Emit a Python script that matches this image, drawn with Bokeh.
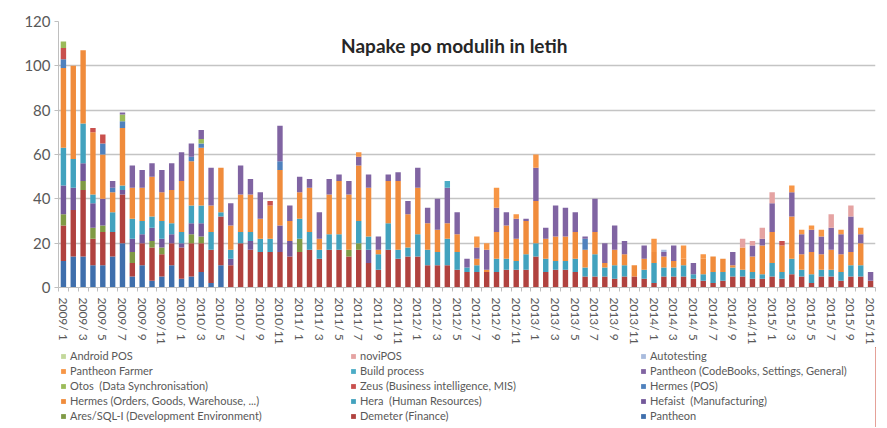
from bokeh.plotting import figure
from bokeh.layouts import column
from bokeh.models import ColumnDataSource, Range1d, FixedTicker, Legend, LegendItem, Label
from bokeh.embed import file_html
from bokeh.resources import INLINE

years = [2009, 2010, 2011, 2012, 2013, 2014, 2015]
months = [f"{y}/{m:2d}" for y in years for m in range(1, 13)][:83]

# stacked from bottom to top
pantheon = [12, 14, 14, 10, 10, 14, 20, 5, 10, 3, 5, 10,
            4, 5, 7, 2, 10, 0, 0, 0, 0, 0, 0, 0,
            0, 0, 0, 0, 0, 0, 0, 0, 0, 0, 0, 0,
            0, 0, 0, 0, 0, 0, 0, 0, 0, 0, 0, 0,
            0, 0, 0, 0, 0, 0, 0, 0, 0, 0, 0, 0,
            0, 0, 0, 0, 0, 0, 0, 0, 0, 0, 0, 0,
            0, 0, 0, 0, 0, 0, 0, 0, 0, 0, 0]
demeter = [16, 21, 30, 12, 15, 11, 22, 6, 10, 15, 10, 10,
           14, 15, 13, 15, 22, 10, 20, 17, 16, 16, 16, 14,
           16, 17, 13, 17, 17, 14, 17, 11, 8, 17, 13, 14,
           14, 10, 10, 10, 8, 7, 7, 7, 7, 8, 8, 8,
           14, 7, 8, 8, 7, 5, 5, 5, 4, 5, 5, 4,
           2, 5, 5, 5, 4, 3, 2, 3, 5, 5, 4, 4,
           5, 4, 6, 5, 2, 5, 5, 3, 5, 5, 3]
ares = [5, 0, 4, 5, 3, 0, 0, 5, 0, 3, 3, 0,
        0, 4, 3, 0, 0, 0, 0, 0, 0, 0, 0, 0,
        6, 0, 0, 0, 0, 3, 3, 0, 0, 0, 0, 0,
        0, 0, 0, 0, 0, 0, 0, 0, 0, 0, 0, 0,
        0, 0, 0, 0, 0, 0, 0, 0, 0, 0, 0, 0,
        0, 0, 0, 0, 0, 0, 0, 0, 0, 0, 0, 0,
        0, 0, 0, 0, 0, 0, 0, 0, 0, 0, 0]
hefaist = [13, 10, 8, 11, 12, 0, 2, 6, 4, 6, 4, 4,
           2, 5, 6, 0, 0, 3, 0, 4, 0, 0, 12, 7,
           0, 0, 0, 0, 0, 0, 0, 6, 0, 0, 0, 0,
           0, 0, 0, 0, 0, 0, 0, 0, 0, 0, 0, 0,
           0, 0, 0, 0, 0, 0, 0, 0, 0, 0, 0, 0,
           0, 0, 0, 0, 0, 0, 0, 0, 0, 0, 0, 0,
           0, 0, 0, 0, 0, 0, 0, 0, 0, 0, 0]
hera = [17, 13, 18, 4, 0, 9, 2, 9, 6, 5, 8, 5,
        5, 8, 8, 8, 2, 4, 5, 4, 6, 6, 0, 0,
        9, 8, 4, 7, 7, 0, 10, 6, 7, 12, 4, 4,
        10, 7, 6, 12, 8, 2, 3, 0, 6, 5, 4, 7,
        6, 6, 4, 4, 6, 4, 10, 4, 6, 5, 0, 4,
        9, 4, 4, 5, 2, 3, 5, 4, 4, 3, 3, 2,
        6, 3, 7, 3, 4, 3, 3, 4, 5, 5, 0]
hermes_orders = [36, 42, 33, 28, 20, 9, 26, 14, 15, 18, 13, 15,
                 23, 20, 26, 12, 20, 11, 17, 17, 9, 15, 25, 9,
                 12, 20, 5, 18, 24, 25, 25, 22, 2, 19, 31, 15,
                 21, 12, 10, 7, 8, 0, 3, 1, 12, 15, 10, 15,
                 19, 9, 11, 11, 12, 8, 10, 2, 7, 5, 5, 5,
                 5, 5, 3, 3, 0, 7, 7, 6, 1, 10, 7, 13,
                 14, 12, 19, 7, 10, 7, 9, 8, 6, 10, 0]
hermes_pos = [4, 0, 0, 0, 5, 2, 3, 0, 0, 0, 0, 0,
              0, 2, 2, 0, 0, 0, 0, 0, 0, 0, 4, 0,
              0, 0, 0, 0, 0, 0, 0, 0, 0, 0, 0, 0,
              0, 0, 0, 0, 0, 0, 0, 0, 0, 0, 0, 0,
              0, 0, 0, 0, 0, 5, 0, 0, 0, 0, 0, 0,
              0, 0, 0, 0, 0, 0, 0, 0, 0, 0, 0, 0,
              0, 0, 0, 0, 0, 0, 0, 0, 0, 0, 0]
zeus = [5, 0, 0, 2, 4, 0, 0, 0, 0, 0, 0, 0,
        0, 0, 0, 0, 0, 0, 0, 0, 0, 2, 0, 0,
        0, 0, 0, 0, 0, 0, 0, 0, 0, 0, 0, 0,
        0, 0, 0, 0, 0, 0, 0, 0, 0, 0, 0, 0,
        0, 0, 0, 0, 0, 0, 0, 0, 0, 0, 0, 0,
        0, 0, 0, 0, 0, 0, 0, 0, 0, 0, 0, 0,
        0, 2, 0, 0, 0, 0, 0, 0, 0, 0, 0]
otos = [3, 0, 0, 0, 0, 0, 3, 0, 0, 0, 0, 0,
        0, 0, 2, 0, 0, 0, 0, 0, 0, 0, 0, 0,
        0, 0, 0, 0, 0, 0, 0, 0, 0, 0, 0, 0,
        0, 0, 0, 0, 0, 0, 0, 0, 0, 0, 0, 0,
        0, 0, 0, 0, 0, 0, 0, 0, 0, 0, 0, 0,
        0, 0, 0, 0, 0, 0, 0, 0, 0, 0, 0, 0,
        0, 0, 0, 0, 0, 0, 0, 0, 0, 0, 0]
pantheon_cb = [0, 0, 0, 0, 0, 3, 1, 10, 8, 6, 10, 12,
               13, 6, 4, 17, 0, 10, 13, 7, 12, 0, 16, 7,
               7, 4, 12, 7, 3, 6, 4, 6, 6, 3, 4, 6,
               9, 7, 14, 16, 10, 4, 5, 9, 11, 6, 9, 1,
               15, 5, 14, 13, 9, 1, 15, 9, 11, 6, 0, 6,
               0, 2, 7, 0, 5, 0, 0, 0, 6, 0, 5, 3,
               13, 0, 11, 9, 10, 8, 10, 9, 16, 4, 4]
build = [0, 0, 0, 0, 0, 0, 0, 0, 0, 0, 0, 0,
         0, 0, 0, 0, 0, 0, 0, 0, 0, 0, 0, 0,
         0, 0, 0, 0, 0, 0, 0, 0, 0, 0, 0, 0,
         0, 0, 0, 3, 0, 0, 0, 0, 0, 0, 0, 0,
         0, 0, 0, 0, 0, 0, 0, 0, 0, 0, 0, 0,
         0, 0, 0, 0, 0, 0, 0, 0, 0, 0, 0, 0,
         0, 0, 0, 0, 0, 0, 0, 0, 0, 0, 0]
farmer = [0, 0, 0, 0, 0, 0, 0, 0, 0, 0, 0, 0,
          0, 0, 0, 0, 0, 0, 0, 0, 0, 0, 0, 0,
          0, 0, 0, 0, 0, 0, 2, 0, 0, 0, 0, 0,
          0, 0, 0, 0, 0, 0, 5, 3, 9, 0, 2, 0,
          6, 0, 0, 0, 0, 0, 0, 0, 0, 0, 0, 0,
          6, 0, 0, 6, 0, 2, 0, 0, 0, 0, 0, 0,
          0, 0, 3, 2, 2, 3, 0, 2, 0, 3, 0]
autotesting = [0, 0, 0, 0, 0, 0, 0, 0, 0, 0, 0, 0,
               0, 0, 0, 0, 0, 0, 0, 0, 0, 0, 0, 0,
               0, 0, 0, 0, 0, 0, 0, 0, 0, 0, 0, 0,
               0, 0, 0, 0, 0, 0, 0, 0, 0, 0, 0, 0,
               0, 0, 0, 0, 0, 0, 0, 0, 0, 0, 0, 0,
               0, 1, 0, 0, 0, 0, 0, 0, 0, 0, 0, 0,
               0, 0, 0, 0, 0, 0, 0, 0, 0, 0, 0]
novipos = [0, 0, 0, 0, 0, 0, 0, 0, 0, 0, 0, 0,
           0, 0, 0, 0, 0, 0, 0, 0, 0, 0, 0, 0,
           0, 0, 0, 0, 0, 0, 0, 0, 0, 0, 0, 0,
           0, 0, 0, 0, 0, 0, 0, 0, 0, 0, 0, 0,
           0, 0, 0, 0, 0, 0, 0, 0, 0, 0, 0, 0,
           0, 0, 0, 0, 0, 0, 0, 0, 0, 4, 2, 5,
           5, 0, 0, 0, 0, 0, 6, 0, 5, 0, 0]
android_pos = [0, 0, 0, 0, 0, 0, 0, 0, 0, 0, 0, 0,
               0, 0, 0, 0, 0, 0, 0, 0, 0, 0, 0, 0,
               0, 0, 0, 0, 0, 0, 0, 0, 0, 0, 0, 0,
               0, 0, 0, 0, 0, 0, 0, 0, 0, 0, 0, 0,
               0, 0, 0, 0, 0, 0, 0, 0, 0, 0, 0, 0,
               0, 0, 0, 0, 0, 0, 0, 0, 0, 0, 0, 0,
               0, 0, 0, 0, 0, 0, 0, 0, 0, 0, 0]

series_names = ["Pantheon", "Demeter (Finance)", "Ares/SQL-I (Development Environment)",
                "Hefaist  (Manufacturing)", "Hera  (Human Resources)",
                "Hermes (Orders, Goods, Warehouse, ...)", "Hermes (POS)",
                "Zeus (Business intelligence, MIS)", "Otos  (Data Synchronisation)",
                "Pantheon (CodeBooks, Settings, General)", "Build process",
                "Pantheon Farmer", "Autotesting", "noviPOS", "Android POS"]
series_values = [pantheon, demeter, ares, hefaist, hera, hermes_orders, hermes_pos,
                 zeus, otos, pantheon_cb, build, farmer, autotesting, novipos, android_pos]
colors = ["#3f6fac", "#b0423f", "#7f9a45", "#73589a", "#42a2be", "#f08c3c",
          "#4f81bd", "#c9504d", "#9bbb59", "#8064a2", "#4bacc6", "#f79646",
          "#a9bbdd", "#e5a3a2", "#c3d89b"]

keys = [f"s{i}" for i in range(len(series_values))]
data = {"x": list(range(len(months)))}
for k, v in zip(keys, series_values):
    data[k] = v
source = ColumnDataSource(data)

label_font = "Lato"
axis_grey = "#bfbfbf"
text_grey = "#595959"

p = figure(width=887, height=347, x_range=Range1d(-0.5, len(months) - 0.5),
           y_range=Range1d(0, 120), output_backend="svg", toolbar_location=None,
           min_border_left=53, min_border_right=12, min_border_top=21,
           min_border_bottom=58)
p.outline_line_color = None

renderers = p.vbar_stack(keys, x="x", width=0.55, fill_color=colors,
                         line_color=None, source=source)

# x axis
xt = list(range(0, len(months), 2))
p.xaxis.ticker = FixedTicker(ticks=xt, minor_ticks=[i - 0.5 for i in range(len(months) + 1)])
p.xaxis.major_label_overrides = {i: months[i] for i in xt}
p.xaxis.major_label_orientation = "vertical"
p.xaxis.major_label_text_font = label_font
p.xaxis.major_label_text_font_size = "12px"
p.xaxis.major_label_text_color = text_grey
p.xaxis.major_tick_out = 0
p.xaxis.major_tick_in = 0
p.xaxis.minor_tick_out = 4
p.xaxis.minor_tick_in = 0
p.xaxis.minor_tick_line_color = axis_grey
p.xaxis.axis_line_color = axis_grey
p.xaxis.major_label_standoff = 6

# y axis
p.yaxis.ticker = FixedTicker(ticks=[0, 20, 40, 60, 80, 100, 120])
p.yaxis.major_label_text_font = label_font
p.yaxis.major_label_text_font_size = "15px"
p.yaxis.major_label_text_color = text_grey
p.yaxis.axis_line_color = axis_grey
p.yaxis.major_tick_line_color = axis_grey
p.yaxis.major_tick_out = 4
p.yaxis.major_tick_in = 0
p.yaxis.minor_tick_out = 0
p.yaxis.minor_tick_in = 0
p.yaxis.major_label_standoff = 4

p.xgrid.visible = False
p.ygrid.grid_line_color = "#c4c4c4"
p.ygrid.grid_line_width = 1.5

# title overlaid on the plot
p.add_layout(Label(x=39.7, y=109.3, text="Napake po modulih in letih",
                   text_align="center", text_baseline="middle", text_font=label_font,
                   text_font_style="bold", text_font_size="19px", text_color="#262626"))

# legend strip below the chart; its swatch renderers use the same data but
# sit outside this strip's visible x range, so only the legend shows
lg = figure(width=887, height=80, x_range=Range1d(-20, -19), y_range=Range1d(0, 1),
            x_axis_type=None, y_axis_type=None, output_backend="svg",
            toolbar_location=None, min_border_left=58, min_border_right=0,
            min_border_top=0, min_border_bottom=0)
lg.outline_line_color = None
swatches = []
for k, c in zip(keys, colors):
    swatches.append(lg.vbar(x="x", top=k, width=0.5, fill_color=c,
                            line_color=None, source=source))

order = list(range(len(series_values) - 1, -1, -1))
items = [LegendItem(label=series_names[i], renderers=[swatches[i]]) for i in order]
legend = Legend(items=items, orientation="horizontal", ncols=3, location="top_left",
                margin=0, padding=2, spacing=2, label_width=278, label_height=13,
                glyph_width=6, glyph_height=6, label_standoff=4,
                label_text_font=label_font, label_text_font_size="11px",
                label_text_color=text_grey, background_fill_alpha=0,
                border_line_alpha=0)
lg.add_layout(legend, "center")

layout = column(p, lg, spacing=0)
open("out.html", "w").write(file_html(layout, INLINE))
